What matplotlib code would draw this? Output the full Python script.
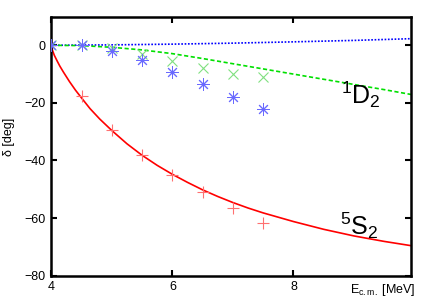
import matplotlib
matplotlib.use("Agg")
import matplotlib.pyplot as plt

plt.rcParams['font.family'] = ['Liberation Sans', 'DejaVu Sans']
plt.rcParams['mathtext.fontset'] = 'custom'
plt.rcParams['mathtext.rm'] = 'Liberation Sans'
plt.rcParams['mathtext.it'] = 'Liberation Sans:italic'
plt.rcParams['mathtext.bf'] = 'Liberation Sans:bold'

# Data points
e_pts = [4.0, 4.5, 5.0, 5.5, 6.0, 6.5, 7.0, 7.5]
s2_pts = [0.0, -17.6, -29.5, -38.0, -45.0, -50.9, -56.6, -61.8]
d2_pts = [0.0, 0.0, -1.0, -3.1, -5.6, -8.0, -10.0, -10.9]
d2b_pts = [0.0, 0.0, -2.1, -5.2, -9.2, -13.4, -18.0, -22.2]

# Theory curves
s2_curve_e = [4.0, 4.02, 4.05, 4.1, 4.14, 4.2, 4.3, 4.4, 4.5, 4.64, 4.8, 5.0, 5.25, 5.5,
              5.75, 6.0, 6.25, 6.5, 6.75, 7.0, 7.25, 7.5, 8.0, 8.5, 9.0, 9.5, 9.95]
s2_curve = [0.0, -1.8, -3.5, -5.6, -7.2, -9.3, -12.6, -15.6, -18.3, -22.0, -25.6, -29.6,
            -34.2, -38.2, -41.7, -44.8, -47.6, -50.2, -52.5, -54.6, -56.5, -58.2, -61.2,
            -63.9, -66.2, -68.1, -69.6]
d2_curve_e = [4.0, 4.5, 5.0, 5.5, 6.0, 6.5, 7.0, 7.5, 8.0, 8.5, 9.0, 9.5, 9.95]
d2_curve = [0.0, -0.1, -0.7, -1.6, -2.9, -4.6, -6.4, -8.2, -10.0, -11.8, -13.6, -15.4, -17.1]
blue_curve_e = [4.0, 5.0, 6.0, 7.0, 8.0, 9.0, 9.95]
blue_curve = [0.0, 0.15, 0.4, 0.75, 1.2, 1.7, 2.3]

xticks = [4, 6, 8]
yticks = [0, -20, -40, -60, -80]

fig = plt.figure(figsize=(4.36, 3.05), dpi=100)
ax = fig.add_axes([0.1177, 0.0961, 0.8261, 0.8498])

ax.plot(blue_curve_e, blue_curve, color='#0000ff', lw=1.2, ls=(0, (1, 1)), zorder=2)
ax.plot(d2_curve_e, d2_curve, color='#00e000', lw=1.2, ls=(0, (2.5, 1.5)), zorder=2)
ax.plot(s2_curve_e, s2_curve, color='#ff0000', lw=1.2, zorder=2)

ax.plot(e_pts, s2_pts, ls='none', marker='+', ms=8, mew=0.8, color='#ff7070', zorder=3)
ax.plot(e_pts, d2_pts, ls='none', marker='x', ms=7, mew=0.8, color='#80e080', zorder=3)
ax.plot(e_pts, d2b_pts, ls='none', marker=(8, 2, 0), ms=9, mew=0.7, color='#6a6aff', zorder=3)

ax.set_xlim(4, 9.95)
ax.set_ylim(-80, 10)
ax.set_xticks(xticks)
ax.set_yticks(yticks)
ax.tick_params(direction='in', length=4, width=1.5, top=True, right=True,
               labelsize=9, pad=4)
for sp in ax.spines.values():
    sp.set_linewidth(1.8)

ax.text(8.79, -20.2, r'$^{1}\mathrm{D}_{2}$', fontsize=18, ha='left', va='baseline')
ax.text(8.77, -65.9, r'$^{5}\mathrm{S}_{2}$', fontsize=18, ha='left', va='baseline')

fig.text(9 / 436, 1 - 137 / 305, 'δ [deg]', rotation=90, ha='center', va='center', fontsize=9)
fig.text(416 / 436, 1 - 293 / 305, r'E$_{\mathrm{c.m.}}$ [MeV]', ha='right', va='baseline', fontsize=9)

fig.savefig('out.png', dpi=100)
